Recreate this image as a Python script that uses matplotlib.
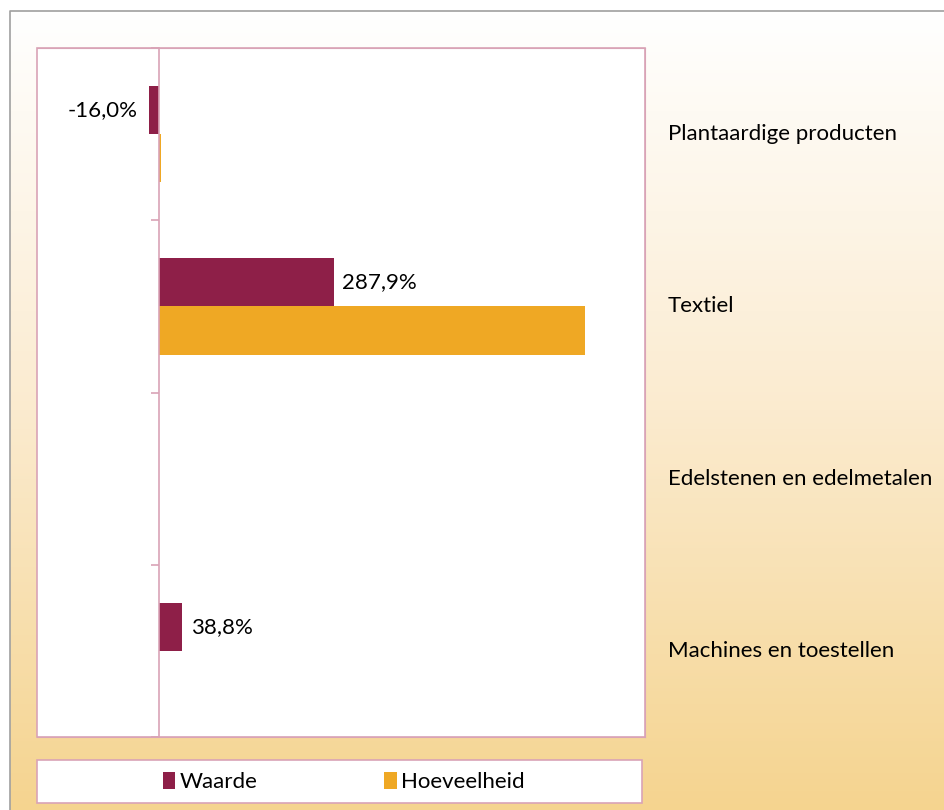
import numpy as np
import matplotlib.pyplot as plt
from matplotlib.patches import Rectangle, Patch
from matplotlib.colors import LinearSegmentedColormap
import matplotlib.transforms as mtransforms

plt.rcParams['font.family'] = ['Lato', 'DejaVu Sans']

# data
categorieen = ["Plantaardige producten", "Textiel", "Edelstenen en edelmetalen", "Machines en toestellen"]
waarde = [-16.0, 287.9, np.nan, 38.8]
hoeveelheid = [4.0, 702.0, np.nan, np.nan]
reeksen = ["Waarde", "Hoeveelheid"]

kleur_waarde = "#8E1F48"
kleur_hoev = "#EFA824"
roze = "#D9A3B6"
fs = 16

W, H = 944, 810
fig = plt.figure(figsize=(W / 100, H / 100), dpi=100)
fig.patch.set_facecolor("white")

# achtergrond met verloop
bg = fig.add_axes([0, 0, 1, 1], zorder=-5)
bg.set_xlim(0, W)
bg.set_ylim(H, 0)
bg.axis("off")
cmap = LinearSegmentedColormap.from_list("verloop", ["#FFFFFF", "#FBEBCF", "#F5D48F"])
grad = np.linspace(0, 1, 256).reshape(-1, 1)
bg.imshow(grad, cmap=cmap, aspect="auto", extent=(10, W, H, 11), zorder=0)
bg.plot([10, 10, W], [H, 11, 11], color="#A0A0A0", lw=1.2, zorder=1)

# legenda kader
bg.add_patch(Rectangle((37, 760), 605, 43, facecolor="white", edgecolor=roze, lw=1.2, zorder=2))

# grafiek
ax = fig.add_axes([37 / W, 1 - 737 / H, 608 / W, 689 / H])
ax.set_facecolor("white")
y = np.arange(len(categorieen))
h = 0.28
ax.barh(y - h / 2, waarde, height=h, color=kleur_waarde, label=reeksen[0])
ax.barh(y + h / 2, hoeveelheid, height=h, color=kleur_hoev, label=reeksen[1])

ax.set_xlim(-200, 800)
ax.set_ylim(len(categorieen) - 0.5, -0.5)

for s in ["top", "right", "bottom"]:
    ax.spines[s].set_color(roze)
ax.spines["left"].set_position(("data", 0))
ax.spines["left"].set_color(roze)
ax.spines["left"].set_linewidth(1.2)
ax.spines["left"].set_zorder(5)
ax.set_xticks([])
ax.set_yticks(np.arange(len(categorieen) + 1) - 0.5)
ax.set_yticklabels([])
ax.tick_params(axis="y", direction="out", length=6, color=roze, width=1.2)

# rand van plotvlak
ax.add_patch(Rectangle((0, 0), 1, 1, transform=ax.transAxes, fill=False,
                       edgecolor=roze, lw=1.2, clip_on=False, zorder=6))

# waarde labels
for yi, v in zip(y, waarde):
    if np.isnan(v):
        continue
    txt = f"{v:.1f}%".replace(".", ",")
    off = -8 if v < 0 else 6
    ax.annotate(txt, (v, yi - h / 2), xytext=(off, 0), textcoords="offset points",
                ha="right" if v < 0 else "left", va="center", fontsize=fs, color="black")

# categorie labels rechts
trans = mtransforms.blended_transform_factory(ax.transAxes, ax.transData)
for yi, c in zip(y, categorieen):
    ax.text((668 - 37) / 608, yi, c, transform=trans, ha="left", va="center",
            fontsize=fs, clip_on=False)

handles = [Patch(facecolor=kleur_waarde), Patch(facecolor=kleur_hoev)]
fig.legend(handles, reeksen, loc="center", bbox_to_anchor=(344 / W, 1 - 782 / H),
           ncol=2, frameon=False, fontsize=fs, handlelength=0.55, handleheight=0.8,
           handletextpad=0.2, columnspacing=5.7)

fig.savefig("out.png", dpi=100)
